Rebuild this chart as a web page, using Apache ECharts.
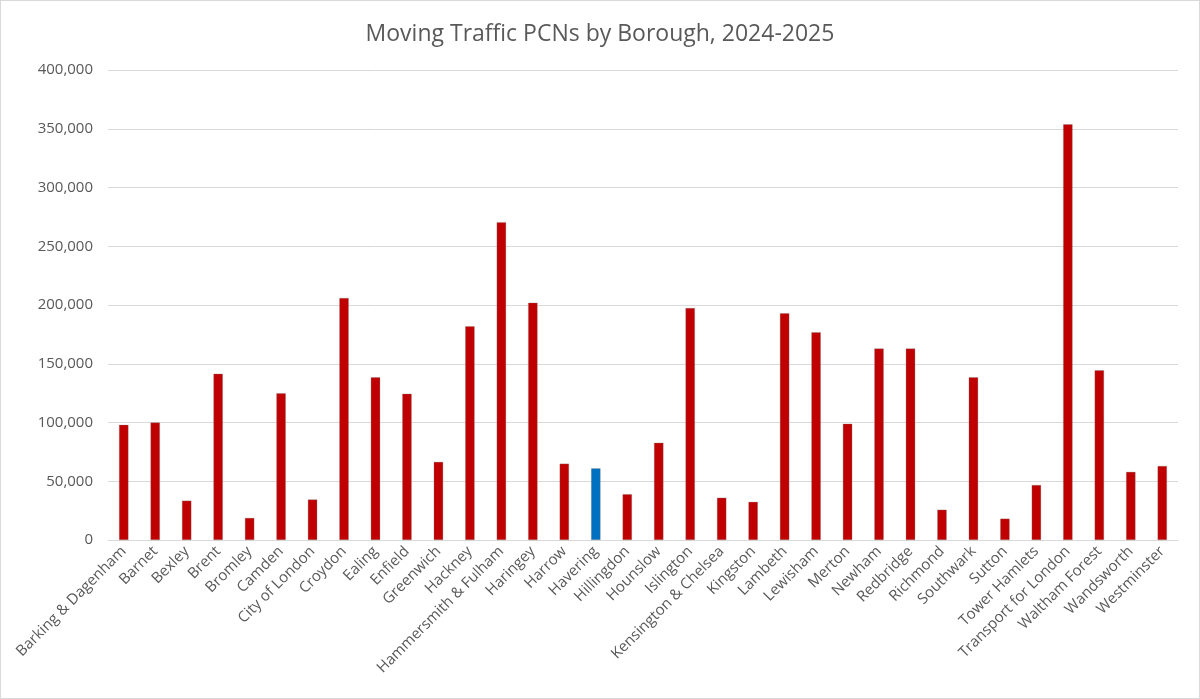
<!DOCTYPE html>
<html>
<head>
<meta charset="utf-8">
<script src="https://cdn.jsdelivr.net/npm/echarts@6/dist/echarts.min.js"></script>
<style>
  html, body { margin: 0; padding: 0; background: #fff; }
  #main { width: 1198px; height: 697px; border: 1px solid #d9d9d9; }
</style>
</head>
<body>
<div id="main"></div>
<script>
// boroughs and PCN counts
var boroughs = ['Barking & Dagenham', 'Barnet', 'Bexley', 'Brent', 'Bromley', 'Camden',
  'City of London', 'Croydon', 'Ealing', 'Enfield', 'Greenwich', 'Hackney',
  'Hammersmith & Fulham', 'Haringey', 'Harrow', 'Havering', 'Hillingdon', 'Hounslow',
  'Islington', 'Kensington & Chelsea', 'Kingston', 'Lambeth', 'Lewisham', 'Merton',
  'Newham', 'Redbridge', 'Richmond', 'Southwark', 'Sutton', 'Tower Hamlets',
  'Transport for London', 'Waltham Forest', 'Wandsworth', 'Westminster'];
var pcns = [98000, 100000, 33500, 141500, 18800, 125000,
  34500, 206000, 138500, 124500, 66500, 182000,
  270500, 202000, 65000, 61000, 39000, 82800,
  197500, 36000, 32500, 193000, 176800, 99000,
  163000, 163000, 25800, 138500, 18200, 46800,
  353800, 144500, 58000, 63000];
var highlight = 'Havering';

var chart = echarts.init(document.getElementById('main'));

chart.setOption({
  animation: false,
  textStyle: { fontFamily: 'Open Sans' },
  title: {
    text: 'Moving Traffic PCNs by Borough, 2024-2025',
    left: 'center',
    top: 17,
    textStyle: { fontSize: 23, fontWeight: 'normal', color: '#595959' }
  },
  grid: { left: 107, right: 21, top: 69, bottom: 158 },
  xAxis: {
    type: 'category',
    data: boroughs,
    axisTick: { show: false },
    axisLine: { lineStyle: { color: '#d9d9d9', width: 1 } },
    axisLabel: { interval: 0, rotate: 45, color: '#595959', fontSize: 15, margin: 9 }
  },
  yAxis: {
    type: 'value',
    min: 0,
    max: 400000,
    interval: 50000,
    axisLine: { show: false },
    axisTick: { show: false },
    splitLine: { lineStyle: { color: '#d9d9d9', width: 1 } },
    axisLabel: {
      color: '#595959', fontSize: 15, margin: 15,
      formatter: function (v) { return v.toLocaleString('en-GB'); }
    }
  },
  series: [{
    type: 'bar',
    barWidth: '30%',
    data: pcns.map(function (v, i) {
      return {
        value: v,
        itemStyle: { color: boroughs[i] === highlight ? '#0070c0' : '#c00000' }
      };
    }),
    itemStyle: { borderColor: 'rgba(128,128,128,0.6)', borderWidth: 0.5 }
  }]
});
</script>
</body>
</html>
